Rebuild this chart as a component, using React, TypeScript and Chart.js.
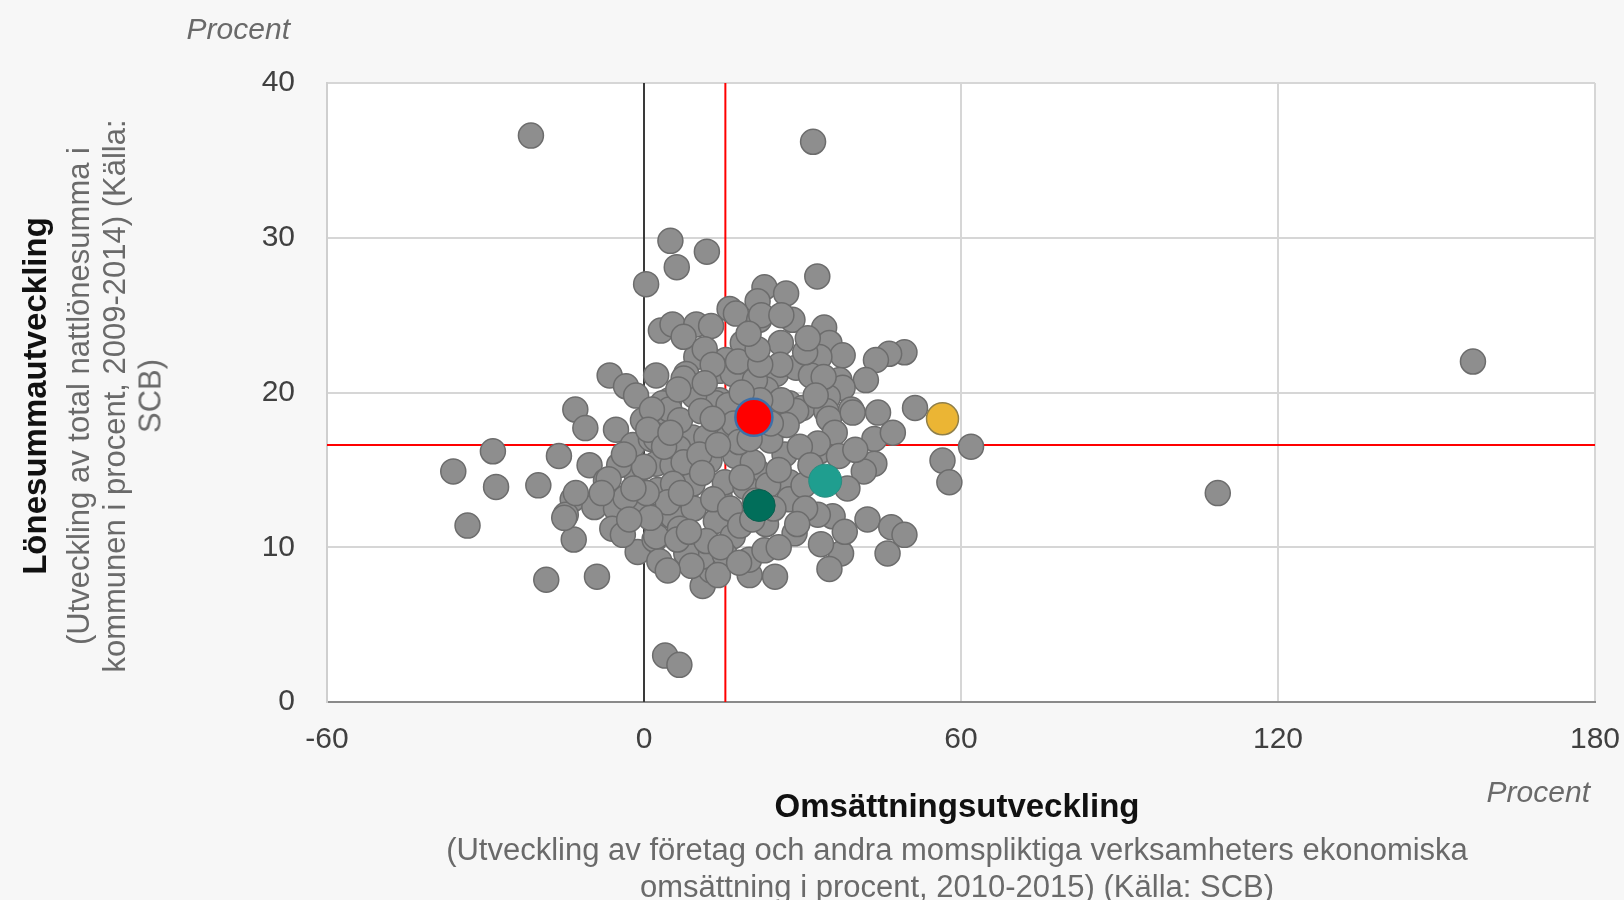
import React, { useEffect, useRef } from "react";
import { Chart, registerables } from "chart.js";

Chart.register(...registerables);

// Omsättningsutveckling (x, procent) per kommun
const omsattningsutveckling = [
  -21.4, 32.0, 156.9, 108.6, -36.1, -33.4, -28.6, -28.0, -20.0, -18.5,
  -8.9, -16.1, -13.0, -11.1, 5.0, 11.9, 6.2, 0.4, 32.8, 4.0,
  6.7, 51.3, 61.9, 56.5, 57.8, 49.3, 46.4, 43.9, 42.0, 44.3,
  43.6, 47.1, 43.6, 41.6, 42.3, 46.8, 49.3, 46.1, 37.3, 35.1,
  35.7, 32.9, 28.5, 24.8, 20.0, 19.9, 22.8, 11.1, 12.7, 22.8,
  26.9, 21.5, 16.2, 17.4, 21.8, 28.1, 34.1, 3.2, 5.4, 9.9,
  12.7, 18.7, 25.9, 35.1, 37.6, 33.2, 9.9, 15.5, 14.3, 25.0,
  28.8, 31.6, 37.0, 37.6, -6.5, -3.4, -1.5, 2.3, 8.0, 9.5,
  16.8, 23.1, 24.4, 4.8, 4.2, 14.3, 27.5, 34.8, 30.0, 34.5,
  39.2, -5.3, -2.1, 1.3, -10.3, -7.2, -1.5, 2.3, -13.5, -14.8,
  -9.4, -5.3, -0.6, -6.0, 2.9, -13.3, -1.2, 2.0, 2.9, -0.2,
  3.5, 13.6, 9.5, 4.8, 15.2, 9.2, 2.3, 28.8, 35.0, 26.2,
  39.5, 33.2, 26.6, 21.2, 12.4, 5.4, 27.5, 9.2, 2.6, 14.3,
  7.3, 27.5, 13.6, 5.4, 2.3, 16.8, 11.1, 8.0, 6.5, 11.8,
  23.9, 27.0, 36.1, 32.9, -12.9, -4.7, 0.0, 7.5, 17.3, 20.6,
  36.9, -6.7, 5.5, 15.3, 19.2, 30.2, -3.5, 4.5, 9.4, 13.1,
  16.3, -15.1, -4.0, 1.2, 6.8, 18.2, 23.1, 6.3, 11.8, 9.0,
  15.3, 14.0, 7.5, 22.2, 30.5, 31.0, 11.5, 13.0, 17.8, 7.5,
  25.8, 21.0, 34.0, 32.5, 26.0, 16.0, 11.5, 6.5, 1.5, 0.8,
  6.8, 10.8, 17.0, -3.8, 3.8, 5.0, 18.0, 20.0, 22.0, 24.0,
  18.5, 23.5, 24.5, 20.5, 10.5, 13.0, 7.0, 18.5, 22.0, 25.5,
  29.5, 30.5, 29.0, 0.5, -2.0, -8.0, -2.8, 8.5, 14.5, 18.0,
  4.5, 40.0, 38.5, 31.5, 21.5, 19.8, 26.0, 38.0, 33.5, 25.5,
  21.0, 11.0, 14.0,
];

// Lönesummautveckling (y, procent) per kommun, samma ordning
const lonesummautveckling = [
  36.6, 36.2, 22.0, 13.5, 14.9, 11.4, 16.2, 13.9, 14.0, 7.9,
  8.1, 15.9, 18.9, 17.7, 29.8, 29.1, 28.1, 27.0, 27.5, 3.0,
  2.4, 19.0, 16.5, 15.6, 14.2, 22.6, 22.5, 22.1, 20.8, 18.7,
  17.0, 17.4, 15.4, 14.9, 11.8, 11.3, 10.8, 9.6, 9.6, 8.6,
  12.0, 12.1, 10.9, 8.1, 8.2, 9.2, 9.8, 7.5, 8.5, 26.8,
  26.4, 25.9, 25.4, 25.1, 24.7, 24.7, 24.2, 24.0, 24.4, 24.4,
  24.3, 23.2, 23.2, 23.2, 22.4, 22.3, 22.3, 22.1, 21.4, 21.2,
  21.6, 21.1, 20.8, 20.3, 21.1, 20.4, 19.8, 21.1, 21.2, 20.3,
  21.2, 20.2, 19.1, 19.5, 18.7, 19.5, 19.3, 19.7, 19.0, 18.8,
  18.9, 17.6, 16.6, 17.0, 15.3, 14.3, 14.8, 15.4, 13.1, 12.1,
  12.6, 12.5, 12.8, 11.2, 12.0, 10.5, 9.7, 10.5, 9.1, 18.2,
  19.3, 19.3, 19.8, 18.9, 17.4, 17.1, 17.0, 18.8, 18.3, 17.9,
  18.7, 16.2, 16.0, 15.0, 15.6, 15.3, 14.2, 14.1, 13.7, 13.3,
  12.8, 13.1, 11.7, 12.0, 10.7, 10.7, 9.4, 9.6, 16.4, 17.1,
  16.9, 17.9, 17.4, 16.7, 13.5, 15.3, 15.2, 15.5, 15.9, 15.5,
  15.9, 14.4, 14.1, 14.2, 13.9, 14.0, 13.2, 12.9, 12.5, 13.1,
  12.5, 11.9, 10.8, 11.9, 11.2, 11.4, 11.5, 10.5, 10.4, 8.8,
  9.5, 8.2, 23.6, 25.0, 22.6, 23.5, 22.8, 21.8, 22.0, 20.9,
  21.8, 20.8, 21.0, 19.8, 19.5, 19.2, 20.6, 20.2, 18.9, 17.6,
  18.2, 18.8, 18.0, 16.0, 16.5, 17.4, 16.8, 17.0, 19.5, 18.0,
  14.5, 14.0, 12.5, 11.8, 16.0, 18.3, 13.5, 20.0, 21.8, 15.0,
  16.5, 12.5, 11.5, 13.5, 13.8, 13.5, 11.8, 11.0, 10.0, 9.0,
  8.5, 16.3, 13.8, 15.3, 22.8, 23.8, 25.0, 11.0, 10.2, 10.0,
  13.0, 14.8, 16.6,
];

// Markerade kommuner: vald kommun (röd), jämförelser
const valdX = [20.8];
const valdY = [18.4];
const gulX = [56.5];
const gulY = [18.3];
const turkosX = [34.3];
const turkosY = [14.3];
const morkgronX = [21.8];
const morkgronY = [12.7];

// Referenslinjer (riket)
const rikeOmsattning = 15.4;
const rikeLonesumma = 16.6;

const xMin = -60;
const xMax = 180;
const xStep = 60;
const yMin = 0;
const yMax = 40;
const yStep = 10;

const FONT = '"Liberation Sans", Arial, Helvetica, sans-serif';

function pts(xs: number[], ys: number[]) {
  return xs.map((x, i) => ({ x, y: ys[i] }));
}

const bgPlugin = {
  id: "plotBg",
  beforeDraw(chart: any) {
    const { ctx, chartArea } = chart;
    if (!chartArea) return;
    ctx.save();
    ctx.fillStyle = "#ffffff";
    ctx.fillRect(chartArea.left, chartArea.top, chartArea.right - chartArea.left, chartArea.bottom - chartArea.top);
    ctx.restore();
  },
};

export default function App() {
  const canvasRef = useRef<HTMLCanvasElement | null>(null);

  useEffect(() => {
    if (!canvasRef.current) return;
    const chart = new Chart(canvasRef.current, {
      type: "scatter",
      data: {
        datasets: [
          {
            data: pts(valdX, valdY),
            backgroundColor: "#ff0000",
            borderColor: "#3d6fa8",
            borderWidth: 2.5,
            pointRadius: 18.5,
            order: 0,
          },
          {
            data: pts(gulX, gulY),
            backgroundColor: "#ebb534",
            borderColor: "#8f7f4a",
            borderWidth: 1.5,
            pointRadius: 16,
            order: 1,
          },
          {
            data: pts(turkosX, turkosY),
            backgroundColor: "#1f9e8f",
            borderColor: "#2a8c80",
            borderWidth: 1,
            pointRadius: 16.5,
            order: 1,
          },
          {
            data: pts(morkgronX, morkgronY),
            backgroundColor: "#016e5a",
            borderColor: "#0b5e4e",
            borderWidth: 1,
            pointRadius: 16,
            order: 1,
          },
          {
            data: pts(omsattningsutveckling, lonesummautveckling),
            backgroundColor: "#8e8e8e",
            borderColor: "#6c6c6c",
            borderWidth: 1.5,
            pointRadius: 12.5,
            order: 2,
          },
          {
            data: [
              { x: rikeOmsattning, y: yMin },
              { x: rikeOmsattning, y: yMax },
            ],
            showLine: true,
            pointRadius: 0,
            borderColor: "#ff0000",
            borderWidth: 2,
            order: 3,
          },
          {
            data: [
              { x: xMin, y: rikeLonesumma },
              { x: xMax, y: rikeLonesumma },
            ],
            showLine: true,
            pointRadius: 0,
            borderColor: "#ff0000",
            borderWidth: 2,
            order: 3,
          },
          {
            data: [
              { x: 0, y: yMin },
              { x: 0, y: yMax },
            ],
            showLine: true,
            pointRadius: 0,
            borderColor: "#3a3a3a",
            borderWidth: 2,
            order: 4,
          },
        ],
      },
      options: {
        animation: false,
        responsive: false,
        devicePixelRatio: 1,
        events: [],
        layout: { padding: { top: 83, right: 29, left: 0, bottom: 0 } },
        plugins: {
          legend: { display: false },
          tooltip: { enabled: false },
        },
        scales: {
          x: {
            type: "linear",
            min: xMin,
            max: xMax,
            afterFit(scale: any) {
              scale.height = 198;
              scale.paddingLeft = 0;
              scale.paddingRight = 0;
            },
            ticks: {
              stepSize: xStep,
              padding: 20,
              color: "#404040",
              font: { family: FONT, size: 30 },
            },
            grid: { color: "#d6d6d6", lineWidth: 2, drawTicks: false },
            border: { display: true, color: "#8a8a8a", width: 2 },
          },
          y: {
            type: "linear",
            min: yMin,
            max: yMax,
            afterFit(scale: any) {
              scale.width = 327;
              scale.paddingTop = 0;
              scale.paddingBottom = 0;
            },
            ticks: {
              stepSize: yStep,
              padding: 32,
              color: "#404040",
              font: { family: FONT, size: 30 },
            },
            grid: { color: "#d6d6d6", lineWidth: 2, drawTicks: false },
            border: { display: true, color: "#cfcfcf", width: 2 },
          },
        },
      },
      plugins: [bgPlugin],
    } as any);
    return () => chart.destroy();
  }, []);

  const base: React.CSSProperties = {
    position: "absolute",
    fontFamily: FONT,
    whiteSpace: "nowrap",
    lineHeight: 1,
  };
  const center: React.CSSProperties = { ...base, transform: "translate(-50%, -50%)" };
  const vert: React.CSSProperties = { ...base, transform: "translate(-50%, -50%) rotate(-90deg)" };

  return (
    <div
      style={{
        position: "fixed",
        left: 0,
        top: 0,
        width: 1624,
        height: 900,
        background: "#f7f7f7",
        overflow: "hidden",
      }}
    >
      <canvas ref={canvasRef} width={1624} height={900} style={{ display: "block", position: "absolute", left: 0, top: 0 }} />
      <div style={{ ...base, left: 290, top: 29, transform: "translate(-100%, -50%)", fontStyle: "italic", fontSize: 30, color: "#6a6a6a" }}>
        Procent
      </div>
      <div style={{ ...base, left: 1590, top: 792, transform: "translate(-100%, -50%)", fontStyle: "italic", fontSize: 30, color: "#6a6a6a" }}>
        Procent
      </div>
      <div style={{ ...center, left: 957, top: 805, fontWeight: "bold", fontSize: 33, color: "#111" }}>Omsättningsutveckling</div>
      <div style={{ ...center, left: 957, top: 849, fontSize: 31, color: "#6a6a6a" }}>
        (Utveckling av företag och andra momspliktiga verksamheters ekonomiska
      </div>
      <div style={{ ...center, left: 957, top: 886, fontSize: 31, color: "#6a6a6a" }}>
        omsättning i procent, 2010-2015) (Källa: SCB)
      </div>
      <div style={{ ...vert, left: 34, top: 396, fontWeight: "bold", fontSize: 33, color: "#111" }}>Lönesummautveckling</div>
      <div style={{ ...vert, left: 78, top: 396, fontSize: 31, color: "#6a6a6a" }}>(Utveckling av total nattlönesumma i</div>
      <div style={{ ...vert, left: 114, top: 396, fontSize: 31, color: "#6a6a6a" }}>kommunen i procent, 2009-2014) (Källa:</div>
      <div style={{ ...vert, left: 150, top: 396, fontSize: 31, color: "#6a6a6a" }}>SCB)</div>
    </div>
  );
}
